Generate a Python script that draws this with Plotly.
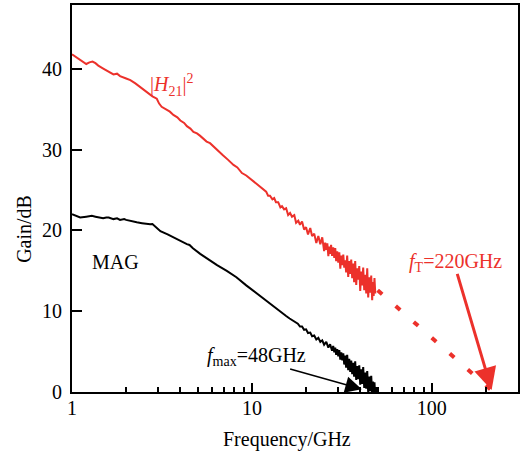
import numpy as np
import plotly.graph_objects as go

# ---------------- data ----------------
# |H21|^2 (red), low-frequency part
h21_freq_low = [1.0, 1.05, 1.1, 1.15, 1.2, 1.25, 1.3, 1.35, 1.4, 1.5, 1.6, 1.7, 1.78, 1.85, 2.0,
                2.11, 2.25, 2.4, 2.5, 2.6, 2.8, 2.96, 3.05, 3.15, 3.3, 3.5, 3.66, 3.85, 4.0, 4.2,
                4.35, 4.55, 4.73, 4.95, 5.16, 5.4, 5.6, 5.85, 6.1, 6.5, 6.9, 7.4, 7.9, 8.3, 8.8,
                9.3, 10.0, 10.5, 11.0, 11.6]
h21_gain_low = [41.8, 41.5, 41.2, 40.9, 40.6, 40.8, 40.9, 40.7, 40.4, 40.0, 39.6, 39.3, 39.4, 39.1, 38.8,
                38.6, 38.2, 37.7, 37.5, 37.1, 36.6, 36.3, 35.7, 35.3, 35.0, 34.7, 34.3, 34.0, 33.6, 33.3,
                32.9, 32.6, 32.2, 32.0, 31.7, 31.3, 31.0, 30.8, 30.4, 29.8, 29.3, 28.7, 28.1, 27.8, 27.1,
                26.8, 26.2, 25.8, 25.4, 25.0]
# |H21|^2, noisy high-frequency part
h21_freq_high = [12.0, 12.3, 12.6, 13.0, 13.3, 13.6, 14.0, 14.4, 14.7, 15.1, 15.5, 15.9, 16.3, 16.7,
                 17.2, 17.6, 18.1, 18.5, 19.0, 19.5, 20.0, 20.5, 21.1, 21.6, 22.2, 22.8, 23.4, 24.0,
                 24.6, 25.2, 25.55, 25.9, 26.25, 26.6, 26.9, 27.2, 27.55, 27.9, 28.3, 28.7, 29.05,
                 29.4, 29.8, 30.2, 30.6, 31.0, 31.4, 31.8, 32.2, 32.6, 33.0, 33.4, 33.85, 34.3, 34.75,
                 35.2, 35.65, 36.1, 36.55, 37.0, 37.5, 38.0, 38.5, 39.0, 39.5, 40.0, 40.5, 41.0, 41.55,
                 42.1, 42.65, 43.2, 43.75, 44.3, 44.9, 45.5, 46.05, 46.6, 47.05, 47.5, 48.0, 48.5]
h21_gain_high = [24.8, 24.3, 24.3, 23.85, 24.0, 23.5, 23.5, 22.85, 23.0, 22.6, 22.75, 21.9, 22.15, 21.7,
                 21.9, 20.95, 21.2, 20.7, 21.1, 20.1, 20.4, 19.5, 20.3, 19.3, 19.6, 18.45, 19.3, 18.3,
                 19.15, 17.45, 18.5, 17.6, 18.4, 16.8, 18.0, 17.1, 18.2, 16.85, 17.9, 16.6, 17.8,
                 16.2, 17.4, 16.0, 17.3, 15.25, 16.9, 15.7, 17.0, 15.4, 16.3, 14.8, 16.9, 14.25, 16.2,
                 14.6, 16.4, 14.1, 15.9, 13.6, 16.2, 13.25, 15.3, 13.9, 15.6, 12.5, 14.9, 13.2, 15.4,
                 12.6, 14.5, 12.2, 15.3, 11.7, 14.2, 12.3, 14.4, 11.35, 13.6, 11.9, 14.1, 12.2]

# extrapolation of |H21|^2 to 0 dB (fT)
extrap_freq = [50.0, 220.0]
extrap_gain = [12.6, 0.0]

# MAG (black), low-frequency part
mag_freq_low = [1.0, 1.05, 1.11, 1.2, 1.29, 1.35, 1.4, 1.49, 1.55, 1.6, 1.7, 1.78, 1.85, 1.95, 2.0,
                2.15, 2.29, 2.45, 2.61, 2.72, 2.8, 2.9, 3.0, 3.1, 3.4, 3.6, 3.83, 4.1, 4.35, 4.5,
                4.7, 5.16, 5.8, 6.4, 7.25, 8.2, 9.3, 10.5, 11.5, 12.6, 13.2, 14.0, 15.0, 15.5, 16.2,
                17.0, 17.5]
mag_gain_low = [22.0, 21.8, 21.6, 21.7, 21.8, 21.7, 21.6, 21.5, 21.6, 21.6, 21.4, 21.5, 21.3, 21.4, 21.3,
                21.1, 21.0, 20.9, 20.8, 20.75, 20.8, 20.5, 20.2, 19.9, 19.5, 19.2, 18.9, 18.6, 18.3, 18.2,
                17.8, 17.1, 16.3, 15.7, 15.0, 14.2, 13.2, 12.3, 11.6, 10.9, 10.5, 10.1, 9.6, 9.4, 9.1,
                8.8, 8.6]
# MAG, noisy high-frequency part
mag_freq_high = [18.0, 18.5, 19.0, 19.5, 20.0, 20.5, 21.1, 21.6, 22.2, 22.8, 23.4, 24.0, 24.6, 25.2,
                 25.9, 26.6, 27.2, 27.9, 28.3, 28.7, 29.05, 29.4, 29.8, 30.2, 30.6, 31.0, 31.4, 31.8,
                 32.2, 32.6, 33.0, 33.4, 33.85, 34.3, 34.75, 35.2, 35.65, 36.1, 36.55, 37.0, 37.5,
                 38.0, 38.5, 39.0, 39.5, 40.0, 40.5, 41.0, 41.55, 42.1, 42.65, 43.2, 43.75, 44.3,
                 44.9, 45.5, 46.05, 46.6, 47.05, 47.5, 48.0, 48.5, 49.0, 49.5, 49.8]
mag_gain_high = [8.45, 8.1, 8.1, 7.7, 7.75, 7.3, 7.35, 6.9, 7.0, 6.5, 6.7, 6.2, 6.4, 5.85,
                 6.2, 5.5, 5.9, 5.1, 5.7, 4.9, 5.5, 4.6, 5.3, 4.4, 5.2, 4.0, 4.9, 3.9,
                 4.8, 3.4, 4.5, 3.0, 4.6, 2.7, 4.1, 2.5, 3.9, 2.2, 3.6, 1.9, 3.8,
                 1.5, 3.2, 1.6, 3.3, 0.9, 2.8, 1.0, 3.1, 0.5, 2.4, 0.4, 2.6, -0.1,
                 1.9, 0.1, 2.0, -0.4, 1.3, -0.2, 1.2, -0.6, 0.6, -0.3, 0.2]

x_tick_vals = [1, 10, 100]
x_tick_text = ["1", "10", "100"]
y_tick_vals = [0, 10, 20, 30, 40]

# annotation anchor points (frequency in GHz, gain in dB)
fmax_tip = (40.8, 0.35)
fmax_tail = (16.0, 2.9)
ft_tip = (215.0, 0.25)
ft_tail = (137.7, 14.8)

RED = "#EC312B"
FONT = "Liberation Serif"

fig = go.Figure()
fig.add_trace(go.Scatter(x=h21_freq_low + h21_freq_high, y=h21_gain_low + h21_gain_high,
                         mode="lines", line=dict(color=RED, width=2), showlegend=False))
fig.add_trace(go.Scatter(x=extrap_freq, y=extrap_gain, mode="lines",
                         line=dict(color=RED, width=4, dash="6px,18px"), showlegend=False))
fig.add_trace(go.Scatter(x=mag_freq_low + mag_freq_high, y=mag_gain_low + mag_gain_high,
                         mode="lines", line=dict(color="black", width=2), showlegend=False))

lg = np.log10
annotations = [
    dict(x=lg(3.56), y=38.0, xref="x", yref="y", text="|<i>H</i><sub>21</sub>|<sup>2</sup>",
         xanchor="center", yanchor="middle",
         showarrow=False, font=dict(family=FONT, size=20, color=RED)),
    dict(x=lg(1.74), y=16.1, xref="x", yref="y", text="MAG", xanchor="center", yanchor="middle",
         showarrow=False, font=dict(family=FONT, size=20, color="black")),
    dict(x=lg(fmax_tip[0]), y=fmax_tip[1], xref="x", yref="y",
         ax=lg(fmax_tail[0]), ay=fmax_tail[1], axref="x", ayref="y",
         text="", showarrow=True, arrowhead=2, arrowsize=2.2, arrowwidth=1.5, arrowcolor="black"),
    dict(x=1.024, y=4.43, xref="x", yref="y", xanchor="center", yanchor="middle",
         text="<i>f</i><sub>max</sub>=48GHz", showarrow=False,
         font=dict(family=FONT, size=20, color="black")),
    dict(x=lg(ft_tip[0]), y=ft_tip[1], xref="x", yref="y",
         ax=lg(ft_tail[0]), ay=ft_tail[1], axref="x", ayref="y",
         text="", showarrow=True, arrowhead=2, arrowsize=1.5, arrowwidth=3, arrowcolor=RED),
    dict(x=2.129, y=16.0, xref="x", yref="y", xanchor="center", yanchor="middle",
         text="<i>f</i><sub>T</sub>=220GHz", showarrow=False,
         font=dict(family=FONT, size=20, color=RED)),
    dict(x=(24 - 72) / 446, y=(392 - 228) / 389, xref="paper", yref="paper", text="Gain/dB",
         xanchor="center", yanchor="middle",
         textangle=-90, showarrow=False, font=dict(family=FONT, size=20, color="black")),
    dict(x=(286.5 - 72) / 446, y=(392 - 440) / 389, xref="paper", yref="paper", text="Frequency/GHz",
         xanchor="center", yanchor="middle",
         showarrow=False, font=dict(family=FONT, size=20, color="black")),
]

fig.update_layout(
    width=525, height=459,
    margin=dict(l=72, r=7, t=3, b=67),
    paper_bgcolor="white", plot_bgcolor="white",
    font=dict(family=FONT, size=20, color="black"),
    annotations=annotations,
)
fig.update_xaxes(type="log", range=[0, 2.479], tickvals=x_tick_vals, ticktext=x_tick_text,
                 ticks="inside", ticklen=9, tickwidth=1.5, tickcolor="black",
                 minor=dict(ticks="inside", ticklen=5, tickwidth=1.5, tickcolor="black",
                            dtick="D1", showgrid=False),
                 showline=True, linecolor="black", linewidth=2, mirror=True,
                 showgrid=False, zeroline=False, tickfont=dict(family=FONT, size=20),
                 ticklabelstandoff=-3)
fig.update_yaxes(range=[0, 47.9], tickvals=y_tick_vals,
                 ticks="inside", ticklen=10, tickwidth=1.5, tickcolor="black",
                 showline=True, linecolor="black", linewidth=2, mirror=True,
                 showgrid=False, zeroline=False, tickfont=dict(family=FONT, size=20),
                 ticklabelstandoff=4)

fig.write_html("out.html", config={"displayModeBar": False},
               post_script="document.body.style.margin='0px';")
